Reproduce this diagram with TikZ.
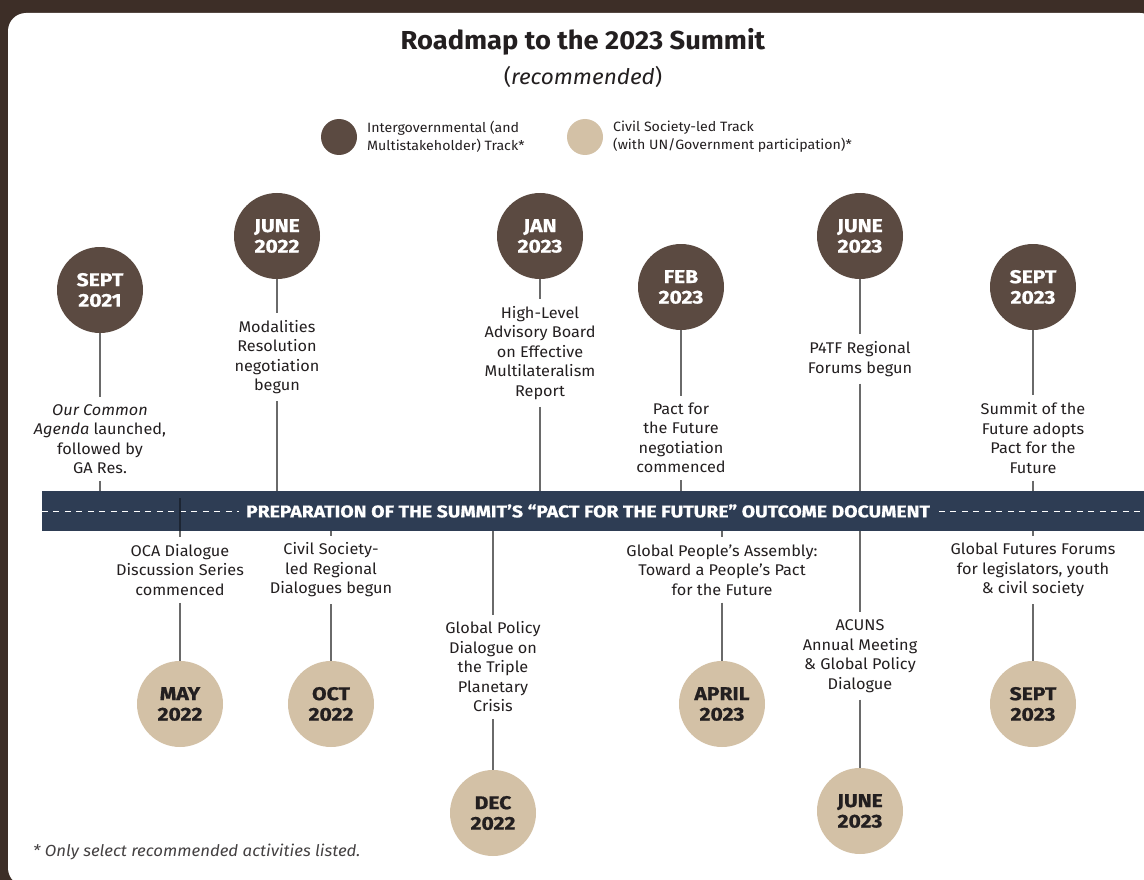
\documentclass[tikz,border=0pt]{standalone}
\usepackage{fontspec}
\setmainfont{Fira Sans}[FakeStretch=1.05]
\newfontfamily\datefont{Fira Sans}[FakeStretch=1.14, BoldFeatures={FakeBold=0.8}]
\definecolor{bgbrown}{HTML}{3D2E27}
\definecolor{igc}{HTML}{5B4A41}
\definecolor{csc}{HTML}{D3C1A6}
\definecolor{bannerc}{HTML}{2E3D54}
\definecolor{txt}{HTML}{231F20}
\definecolor{linec}{HTML}{6A6A6A}
\definecolor{insidec}{HTML}{1C2533}
\begin{document}
\begin{tikzpicture}[x=1pt,y=-1pt,
  igdate/.style={circle, fill=igc, text=white, minimum size=86pt, inner sep=0pt, align=center,
    font=\datefont\fontsize{18.5}{20.5}\selectfont\bfseries},
  csdate/.style={igdate, fill=csc, text=txt},
  desc/.style={align=center, text=txt, font=\fontsize{15.5}{19.5}\selectfont, inner xsep=2pt, inner ysep=7pt},
  conn/.style={draw=linec, line width=1.3pt},
  legdot/.style={circle, minimum size=36pt, inner sep=0pt},
  legtext/.style={anchor=west, align=left, text=txt, font=\fontsize{13.5}{18}\selectfont, inner sep=0pt},
  bannerbar/.style={rectangle, fill=bannerc, minimum width=1120pt, minimum height=40pt, inner sep=0pt},
  bannertext/.style={fill=bannerc, text=white, inner xsep=7pt, inner ysep=2pt,
    font=\datefont\fontsize{17}{19}\selectfont\bfseries}
]
\useasboundingbox (0,0) rectangle (1144,880);
\fill[bgbrown] (0,0) rectangle (1144,880);
\fill[white, rounded corners=18pt] (8,13) rectangle (1158,886);

% title
\node[text=txt, font=\fontsize{26}{30}\selectfont\bfseries] (title) at (583,42) {Roadmap to the 2023 Summit};
\node[text=txt, font=\fontsize{21.5}{24}\selectfont] (subtitle) at (583,77) {(\textit{recommended})};

% legend
\node[legdot, fill=igc] (lg1) at (339,137) {};
\node[legtext] (lg1t) at (367,137) {Intergovernmental (and\\Multistakeholder) Track*};
\node[legdot, fill=csc] (lg2) at (585,137) {};
\node[legtext] (lg2t) at (613,137) {Civil Society-led Track\\(with UN/Government participation)*};

% banner
\node[bannerbar] (banner) at (602,511) {};
\draw[white, line width=1pt, dash pattern=on 6pt off 5.5pt] (banner.west) -- (banner.east);
\node[bannertext] (btext) at (588,511) {PREPARATION OF THE SUMMIT’S “PACT FOR THE FUTURE” OUTCOME DOCUMENT};

% top (intergovernmental) track
\node[igdate] (c1) at (100,290) {SEPT\\2021};
\node[desc] (d1) at (100,439) {\textit{Our Common}\\\textit{Agenda} launched,\\followed by\\GA Res.};
\node[igdate] (c2) at (277,236) {JUNE\\2022};
\node[desc] (d2) at (277,357) {Modalities\\Resolution\\negotiation\\begun};
\node[igdate] (c3) at (540,236) {JAN\\2023};
\node[desc] (d3) at (540,353) {High-Level\\Advisory Board\\on Effective\\Multilateralism\\Report};
\node[igdate] (c4) at (681,287) {FEB\\2023};
\node[desc] (d4) at (681,438) {Pact for\\the Future\\negotiation\\commenced};
\node[igdate] (c5) at (860,236) {JUNE\\2023};
\node[desc] (d5) at (860,359) {P4TF Regional\\Forums begun};
\node[igdate] (c6) at (1033,287) {SEPT\\2023};
\node[desc] (d6) at (1033,438) {Summit of the\\Future adopts\\Pact for the\\Future};

\foreach \i in {1,...,6}{
  \draw[conn] (c\i) -- (d\i);
  \draw[conn] (d\i) -- (d\i |- banner.north);
}

% bottom (civil society) track
\node[csdate] (b1) at (180,704) {MAY\\2022};
\node[desc] (e1) at (180,570) {OCA Dialogue\\Discussion Series\\commenced};
\node[csdate] (b2) at (331,704) {OCT\\2022};
\node[desc] (e2) at (331,570) {Civil Society-\\led Regional\\Dialogues begun};
\node[csdate] (b3) at (493,813) {DEC\\2022};
\node[desc] (e3) at (493,667) {Global Policy\\Dialogue on\\the Triple\\Planetary\\Crisis};
\node[csdate] (b4) at (722,704) {APRIL\\2023};
\node[desc] (e4) at (722,570) {Global People’s Assembly:\\Toward a People’s Pact\\for the Future};
\node[csdate] (b5) at (860,811) {JUNE\\2023};
\node[desc] (e5) at (860,656) {ACUNS\\Annual Meeting\\\& Global Policy\\Dialogue};
\node[csdate] (b6) at (1033,704) {SEPT\\2023};
\node[desc] (e6) at (1033,570) {Global Futures Forums\\for legislators, youth\\\& civil society};

\coordinate (ocatop) at (180,498);
\draw[line width=1.3pt, draw=insidec] (ocatop) -- (ocatop |- banner.south);
\draw[conn] (ocatop |- banner.south) -- (e1);
\foreach \i in {2,...,6}{
  \draw[conn] (e\i |- banner.south) -- (e\i);
}
\foreach \i in {1,...,6}{
  \draw[conn] (e\i) -- (b\i);
}

% footnote
\node[anchor=west, text=txt!85, font=\fontsize{16}{18}\selectfont\itshape, inner sep=0pt] (foot) at (33,852) {* Only select recommended activities listed.};
\end{tikzpicture}
\end{document}
